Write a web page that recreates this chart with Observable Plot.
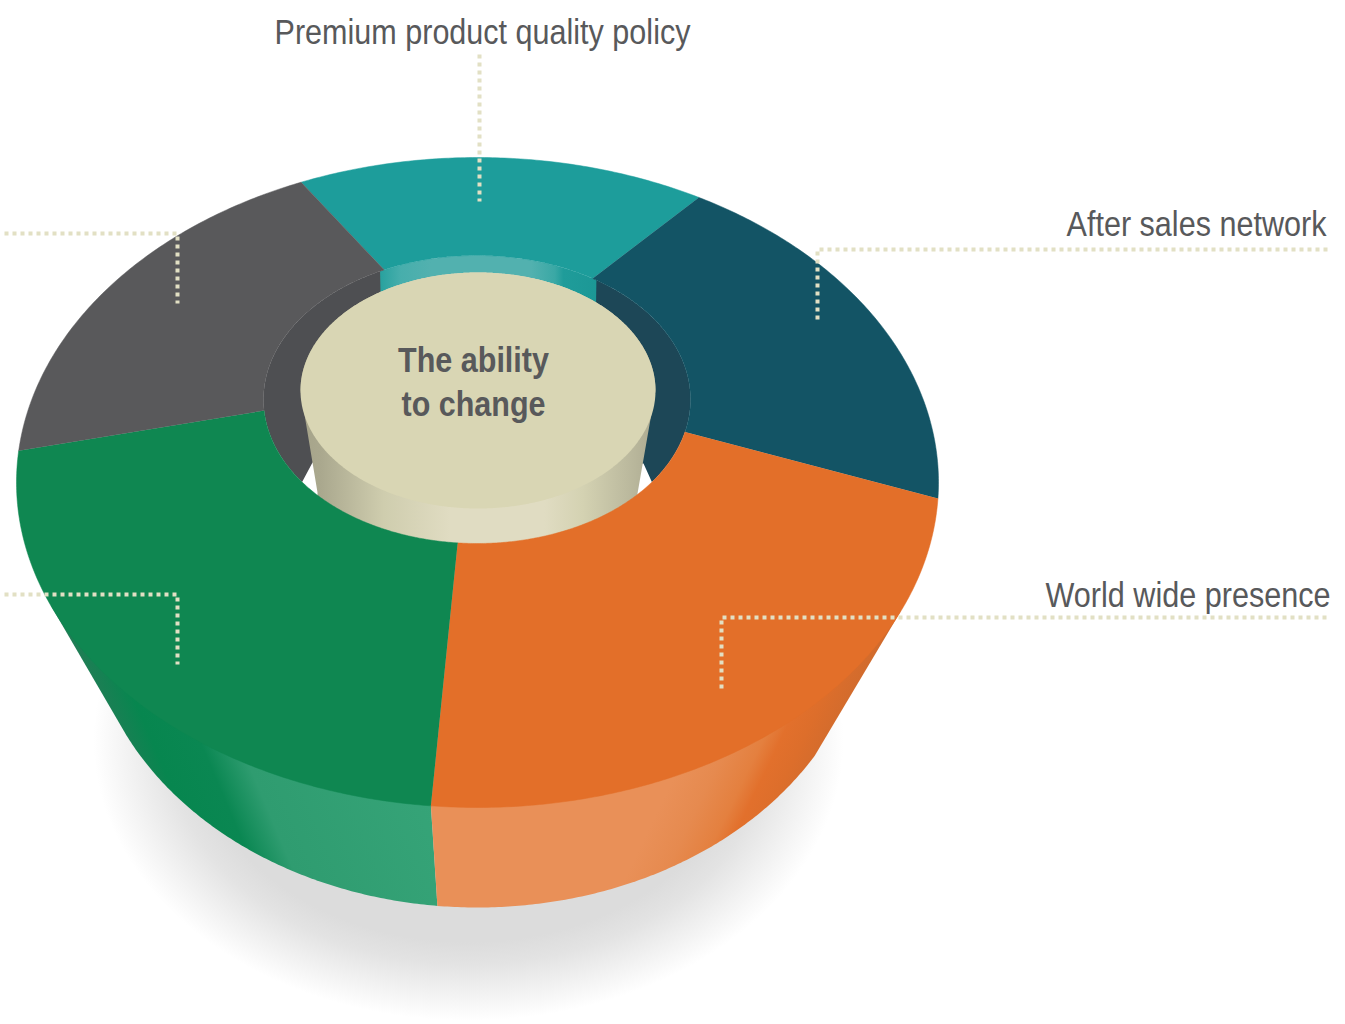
<!DOCTYPE html>
<html>
<head>
<meta charset="utf-8">
<script src="https://cdn.jsdelivr.net/npm/d3@7"></script>
<script src="https://cdn.jsdelivr.net/npm/@observablehq/plot@0.6"></script>
<style>html,body{margin:0;padding:0;background:#fff}svg{display:block}</style>
</head>
<body>
<div id="chart"></div>
<script>
// Categories and slice boundaries (ellipse angle, degrees, clockwise from 3 o'clock)
const sliceNames = ["Premium product quality policy", "After sales network", "World wide presence", "Lower left segment", "Upper left segment"];
const sliceColors = ["#1d9d9b", "#135465", "#e36f29", "#0f8751", "#59595b"];
const outerStart = [-112.5, -61.3, 2.8, 95.8, 185.6];
const outerEnd = [-61.3, 2.8, 95.8, 185.6, 247.5];
const innerStart = [-115.8, -57.2, 13, 95.2, 175.6];
const innerEnd = [-57.2, 13, 95.2, 175.6, 244.2];

// Labels
const labelTexts = ["Premium product quality policy", "After sales network", "World wide presence"];
const labelX = [482, 1326, 1330];
const labelY = [32, 224, 595];
const labelWidth = [416, 260, 285];
const centreLines = ["The ability", "to change"];
const centreY = [360, 404];
const centreWidth = [151, 144];

// Leader lines
const leaders = [
  [[479, 54], [479, 201]],
  [[1330, 249], [817, 249], [817, 319]],
  [[1330, 617], [721, 617], [721, 688]],
  [[4, 233], [177, 233], [177, 303]],
  [[4, 594], [177, 594], [177, 664]]
];
const leaderPhase = [0, 5, 4, 0, 0];

// Ellipses of the drawing
const top_ = {cx: 477, cy: 482, rx: 461, ry: 325};
const low = {cx: 477, cy: 602, rx: 390, ry: 305};
const hole = {cx: 476.5, cy: 399, rx: 213.5, ry: 144};
const disk = {cx: 477.5, cy: 390, rx: 177.5, ry: 118};
const shadow = {cx: 468, cy: 740, rx: 375, ry: 280};

const pt = (e, a) => [e.cx + e.rx * Math.cos(a * Math.PI / 180), e.cy + e.ry * Math.sin(a * Math.PI / 180)];
const arc = (e, a0, a1) => {
  const n = Math.max(2, Math.ceil(Math.abs(a1 - a0) * 2));
  return d3.range(n + 1).map(i => pt(e, a0 + (a1 - a0) * i / n));
};
const poly = (points, fill, extra = {}) =>
  Plot.line(points, {x: d => d[0], y: d => d[1], fill, stroke: "none", curve: "linear", ...extra});

function grad(defs, id, v, stops) {
  const g = defs.append("linearGradient").attr("id", id).attr("gradientUnits", "userSpaceOnUse")
    .attr("x1", v[0]).attr("y1", v[1]).attr("x2", v[2]).attr("y2", v[3]);
  stops.forEach(([o, c]) => g.append("stop").attr("offset", o).attr("stop-color", c));
}
const defsMark = () => {
  const defs = d3.create("svg:defs");
  const r = defs.append("radialGradient").attr("id", "shadowFill");
  [[0, "#dcdcdc"], [0.72, "#dcdcdc"], [0.8, "#e3e3e3"], [0.9, "#f1f1f1"], [1, "#ffffff"]]
    .forEach(([o, c]) => r.append("stop").attr("offset", o).attr("stop-color", c));
  grad(defs, "sideGreen", [90, 800, 458, 644], [[0, "#2a7a58"], [0.08, "#2a7a58"], [0.2, "#07864f"], [0.31, "#0a8752"], [0.4, "#2f9c70"], [0.8, "#36a478"], [1, "#36a478"]]);
  grad(defs, "sideOrange", [440, 800, 800, 974], [[0, "#e99058"], [0.5, "#e99058"], [0.585, "#e68a4f"], [0.66, "#e4803f"], [0.7, "#e2702c"], [0.75, "#dd6e2b"], [0.85, "#cc6a2e"], [1, "#cc6a2e"]]);
  grad(defs, "column", [303, 0, 652, 0], [[0, "#a6a48a"], [0.05, "#aaa88e"], [0.23, "#cfcdae"], [0.42, "#e0dcc2"], [0.69, "#e0dcc2"], [0.8, "#d4d2b2"], [0.95, "#b8b69b"], [1, "#aeac92"]]);
  grad(defs, "wallTeal", [381, 0, 595, 0], [[0, "#2aa29f"], [0.09, "#47aeac"], [0.23, "#52b1af"], [0.7, "#52b1af"], [0.81, "#3aa8a5"], [0.85, "#1f9c9a"], [1, "#1c9896"]]);
  return defs.node();
};

const wallLeft = [...arc(hole, 244, 145), [312, 462], [381, 462]];
const wallBack = [...arc(hole, 243, 304), [595, 340], [381, 340]];
const wallRight = [...arc(hole, 303, 360 + 35), [643, 463], [593, 463]];
const columnShape = [...arc(disk, 180, 360), [637, 493], [637, 560], [317, 560], [317, 492]];
const sideL = [pt(top_, 157.8), ...arc(low, 154.7, 95.9), pt(top_, 95.8)];
const sideR = [pt(top_, 95.8), ...arc(low, 95.9, 30.2), pt(top_, 23.3)];

const ring = sliceNames.map((name, i) => poly(
  [...arc(top_, outerStart[i], outerEnd[i]), ...arc(hole, innerEnd[i], innerStart[i])],
  sliceColors[i],
  {stroke: sliceColors[i], strokeWidth: 0.5}
));

const labelStyle = {fill: "#58595b", fontSize: 35, fontFamily: "Liberation Sans", lineAnchor: "middle"};
const labelMark = (i, textAnchor) => Plot.text([labelTexts[i]], {
  x: () => labelX[i], y: () => labelY[i], text: d => d, textAnchor, ...labelStyle
});

const plot = Plot.plot({
  width: 1345, height: 1024,
  marginTop: 0, marginRight: 0, marginBottom: 0, marginLeft: 0,
  x: {domain: [0, 1345], axis: null},
  y: {domain: [1024, 0], axis: null},
  style: {background: "#fff"},
  marks: [
    defsMark,
    poly(arc(shadow, 0, 360), "url(#shadowFill)"),
    poly(sideL, "url(#sideGreen)"),
    poly(sideR, "url(#sideOrange)"),
    poly(arc(hole, 0, 360), "#fff"),
    poly(wallLeft, "#4e4f52"),
    poly(wallRight, "#1d4757"),
    poly(wallBack, "url(#wallTeal)"),
    poly(columnShape, "url(#column)"),
    poly(arc(disk, 0, 360), "#d9d6b4"),
    ...ring,
    ...leaders.map((l, i) => Plot.line(l, {
      x: d => d[0], y: d => d[1], stroke: "#e2e0c4", strokeWidth: 4,
      strokeDasharray: "4,4", strokeDashoffset: leaderPhase[i], curve: "linear",
      strokeLinejoin: "miter", strokeLinecap: "butt"
    })),
    labelMark(0, "middle"),
    labelMark(1, "end"),
    labelMark(2, "end"),
    Plot.text(centreLines, {
      x: () => 473, y: (d, i) => centreY[i], text: d => d,
      textAnchor: "middle", fill: "#58595b", fontSize: 36, fontWeight: "bold",
      fontFamily: "Liberation Sans", lineAnchor: "middle"
    })
  ]
});
document.getElementById("chart").appendChild(plot);

// The reference type is condensed: narrow each string horizontally to its measured width.
const widths = new Map([...labelTexts.map((t, i) => [t, labelWidth[i]]), ...centreLines.map((t, i) => [t, centreWidth[i]])]);
d3.select(plot).selectAll("text").each(function () {
  const w = widths.get(this.textContent);
  if (!w) return;
  const k = w / this.getComputedTextLength();
  const t = this.getAttribute("transform") || "";
  this.setAttribute("transform", `${t} scale(${k},1)`);
});
</script>
</body>
</html>
